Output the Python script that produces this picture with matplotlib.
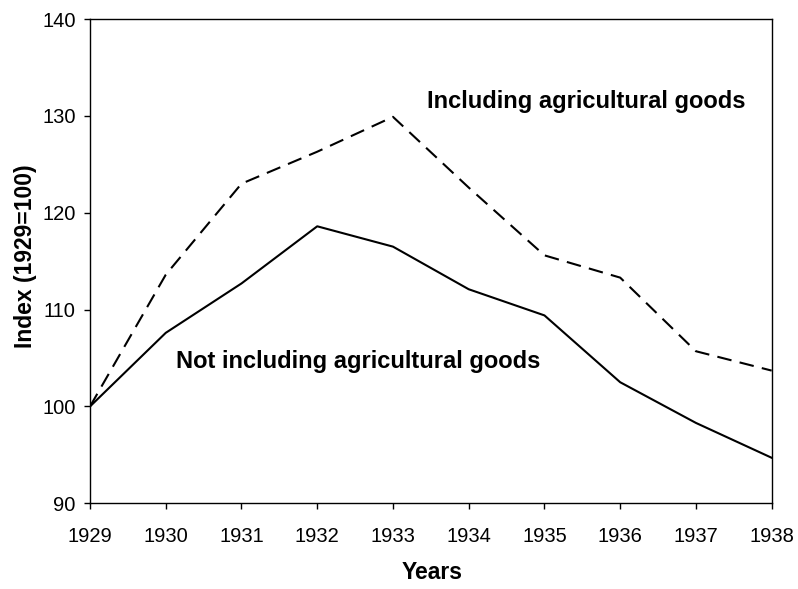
import matplotlib
matplotlib.use("Agg")
import matplotlib.pyplot as plt

plt.rcParams['font.family'] = ['Liberation Sans', 'DejaVu Sans']

# Index values (1929=100)
years = [1929, 1930, 1931, 1932, 1933, 1934, 1935, 1936, 1937, 1938]
incl_agri = [100, 113.6, 123.0, 126.3, 129.9, 122.6, 115.6, 113.3, 105.7, 103.7]
excl_agri = [100, 107.6, 112.7, 118.6, 116.5, 112.1, 109.4, 102.5, 98.3, 94.7]
y_ticks = [90, 100, 110, 120, 130, 140]

fig = plt.figure(figsize=(7.98, 5.89), dpi=100)
ax = fig.add_axes([0.1128, 0.1455, 0.8542, 0.8222])

ax.plot(years, incl_agri, color='black', lw=1.5, dashes=(7, 4))
ax.plot(years, excl_agri, color='black', lw=1.5)

ax.set_xlim(1929, 1938)
ax.set_ylim(90, 140)
ax.set_xticks(years)
ax.set_yticks(y_ticks)
ax.tick_params(direction='out', length=4.3, width=1, labelsize=14.5, pad=6)
ax.tick_params(axis='x', pad=13)
for s in ax.spines.values():
    s.set_linewidth(1)

ax.set_xlabel("Years", fontsize=16.5, fontweight='bold')
ax.set_ylabel("Index (1929=100)", fontsize=16.5, fontweight='bold')
ax.xaxis.set_label_coords(0.5017, -0.142)
ax.xaxis.label.set_va('center')
ax.yaxis.set_label_coords(-0.0953, 0.5106)
ax.yaxis.label.set_va('center')

ax.text(1935.55, 131.5, "Including agricultural goods", fontsize=17,
        fontweight='bold', ha='center', va='center')
ax.text(1930.13, 104.6, "Not including agricultural goods", fontsize=17,
        fontweight='bold', ha='left', va='center')

fig.savefig("out.png", dpi=100)
